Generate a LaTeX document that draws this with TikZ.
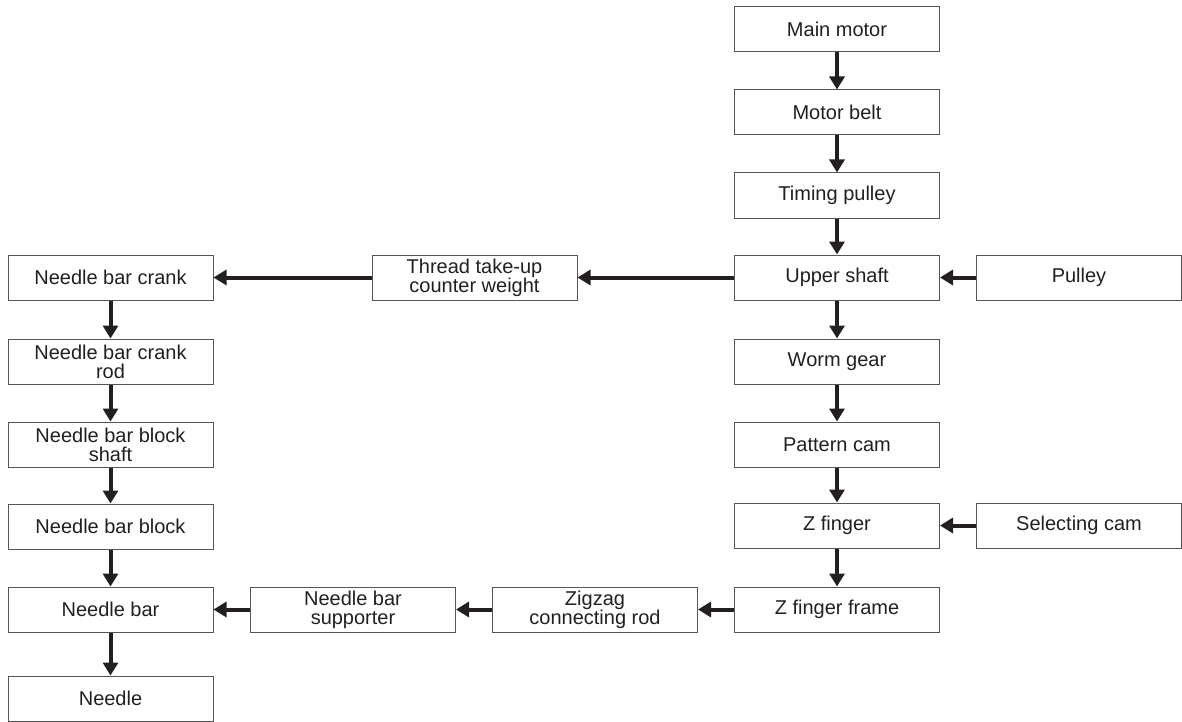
\documentclass[tikz,border=0pt]{standalone}
\usepackage{fontspec}
\setmainfont{Liberation Sans}
\usetikzlibrary{arrows.meta}
\definecolor{inkblack}{HTML}{231F20}
\definecolor{framegray}{HTML}{555555}
\tikzset{
  partbox/.style={draw=framegray, line width=1pt, minimum width=205pt, minimum height=45pt,
    inner sep=0pt, align=center, text=inkblack, font=\fontsize{20}{19}\selectfont},
  drive/.style={draw=inkblack, line width=4pt, -{Triangle[length=13pt,width=15pt]}}
}
\begin{document}
\begin{tikzpicture}[x=1pt,y=-1pt]
                    \useasboundingbox (0,0) rectangle (1182,722);

                    % Right column: motor down to Z finger frame
                    \node [partbox] (mainmotor) at (837,29.5) {Main motor};
                    \node [partbox] (motorbelt) at (837,112.5) {Motor belt};
                    \node [partbox] (timingpulley) at (837,195.5) {Timing pulley};
                    \node [partbox] (uppershaft) at (837,277.5) {Upper shaft};
                    \node [partbox] (wormgear) at (837,361.5) {Worm gear};
                    \node [partbox] (patterncam) at (837,444.5) {Pattern cam};
                    \node [partbox] (zfinger) at (837,525.5) {Z finger};
                    \node [partbox] (zframe) at (837,609.5) {Z finger frame};

                    % Far right column
                    \node [partbox] (pulley) at (1079,277.5) {Pulley};
                    \node [partbox] (selcam) at (1079,525.5) {Selecting cam};

                    % Middle boxes
                    \node [partbox] (takeup) at (474.5,277.5) {Thread take-up\\counter weight};
                    \node [partbox] (zigzag) at (595,609.5) {Zigzag\\connecting rod};
                    \node [partbox] (supporter) at (353,609.5) {Needle bar\\supporter};

                    % Left column: crank down to needle
                    \node [partbox] (crank) at (110.5,277.5) {Needle bar crank};
                    \node [partbox] (crankrod) at (110.5,361.5) {Needle bar crank\\rod};
                    \node [partbox] (blockshaft) at (110.5,444.5) {Needle bar block\\shaft};
                    \node [partbox] (block) at (110.5,526.5) {Needle bar block};
                    \node [partbox] (needlebar) at (110.5,609.5) {Needle bar};
                    \node [partbox] (needle) at (110.5,698.5) {Needle};

                    % Drawing drive arrows
                    \draw [drive] (mainmotor) -- (motorbelt);
                    \draw [drive] (motorbelt) -- (timingpulley);
                    \draw [drive] (timingpulley) -- (uppershaft);
                    \draw [drive] (pulley) -- (uppershaft);
                    \draw [drive] (uppershaft) -- (wormgear);
                    \draw [drive] (wormgear) -- (patterncam);
                    \draw [drive] (patterncam) -- (zfinger);
                    \draw [drive] (selcam) -- (zfinger);
                    \draw [drive] (zfinger) -- (zframe);
                    \draw [drive] (zframe) -- (zigzag);
                    \draw [drive] (zigzag) -- (supporter);
                    \draw [drive] (supporter) -- (needlebar);
                    \draw [drive] (uppershaft) -- (takeup);
                    \draw [drive] (takeup) -- (crank);
                    \draw [drive] (crank) -- (crankrod);
                    \draw [drive] (crankrod) -- (blockshaft);
                    \draw [drive] (blockshaft) -- (block);
                    \draw [drive] (block) -- (needlebar);
                    \draw [drive] (needlebar) -- (needle);
\end{tikzpicture}
\end{document}
